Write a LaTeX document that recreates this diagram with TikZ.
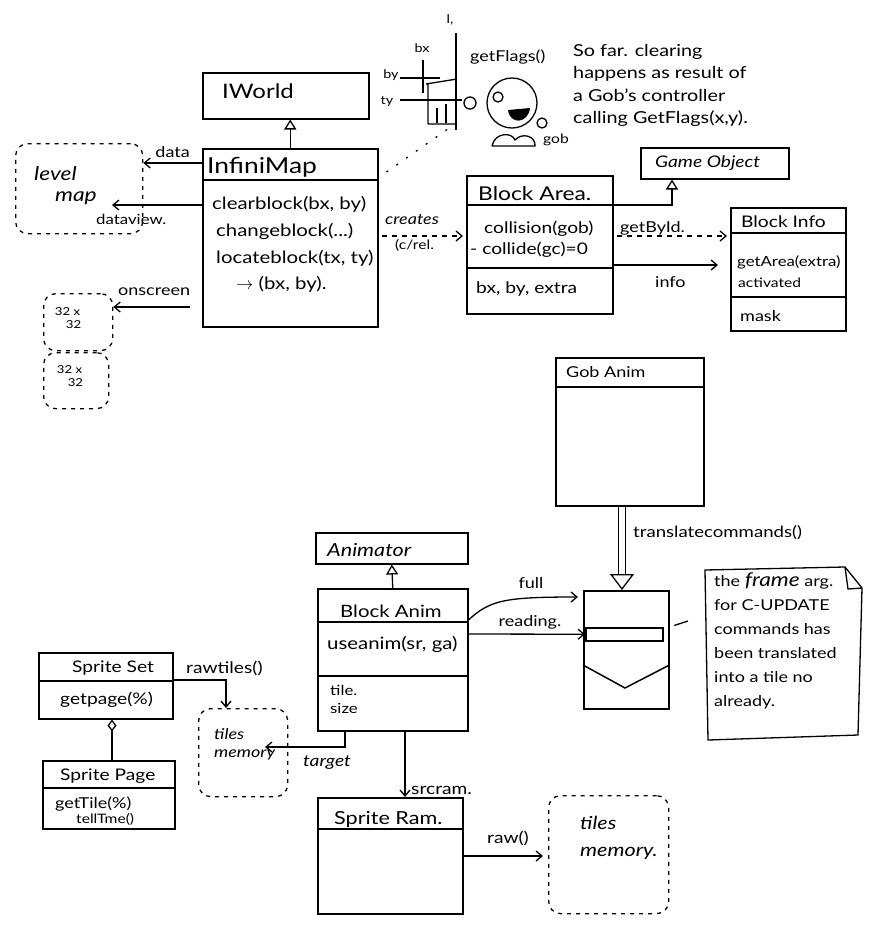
\documentclass[tikz,border=0pt]{standalone}
\usepackage{fontspec}
\setmainfont{Lato}[FakeStretch=1.2]
\usetikzlibrary{arrows.meta,calc}
\newcommand{\fs}[1]{\fontsize{#1}{#1}\selectfont}
\begin{document}
\begin{tikzpicture}[x=1pt,y=-1pt,
  box/.style={draw, line width=1.5pt, anchor=north west, inner sep=0pt},
  dbox/.style={draw, line width=1.3pt, rounded corners=12pt, anchor=north west, inner sep=0pt, dash pattern=on 4pt off 5pt},
  sep/.style={line width=1.5pt},
  cname/.style={anchor=west, inner sep=0pt, font=\fs{17}},
  meth/.style={anchor=west, inner sep=0pt, font=\fs{16}},
  lab/.style={inner sep=0pt, font=\fs{15}},
  conn/.style={line width=1.3pt, -{Straight Barb[length=6pt,width=10pt,line width=1.3pt]}},
  dconn/.style={conn, dash pattern=on 5pt off 5pt},
  inh/.style={line width=1.3pt, -{Triangle[open,length=10pt,width=12pt,line width=1.3pt]}},
  sketch/.style={line width=1.3pt},
]
\useasboundingbox (0,0) rectangle (874,930);

% ---------- IWorld / InfiniMap ----------
\node[box, minimum width=166pt, minimum height=46pt] (iworld) at (202,72) {};
\node[cname, font=\fs{20}] (iworldT) at (222,91) {IWorld};
\node[box, minimum width=175pt, minimum height=178pt] (infini) at (202,148) {};
\draw[sep] (infini.west |- 0,180) -- (infini.east |- 0,180);
\node[cname, font=\fs{22}] (infiniT) at (207,167) {InfiniMap};
\node[meth, font=\fs{17}] (im1) at (212,204) {clearblock(bx, by)};
\node[meth, font=\fs{17}] (im2) at (216,231) {changeblock(...)};
\node[meth, font=\fs{17}] (im3) at (216,258) {locateblock(tx, ty)};
\node[meth, font=\fs{17}] (im4) at (236,284) {$\rightarrow$ (bx, by).};
\draw[inh] (infini.north) -- (infini.north |- iworld.south);

% ---------- level map & screens ----------
\node[dbox, minimum width=127pt, minimum height=90pt] (levelmap) at (15,143) {};
\node[lab, anchor=west, align=left, font=\itshape\fontsize{19}{21}\selectfont] (levelmapT) at (34,186) {level\\\hspace{1.1em}map};
\draw[conn] (infini.west |- 0,163) -- (levelmap.east |- 0,163) node[lab, midway, above=5pt] (dataL) {data};
\coordinate (dvend) at (112,205);
\draw[conn] (infini.west |- 0,205) -- (dvend);
\node[lab, anchor=west, font=\fs{14}] (dataviewL) at (96,219) {dataview.};

\node[dbox, minimum width=69pt, minimum height=57pt] (scr1) at (43,293) {};
\node[dbox, minimum width=65pt, minimum height=56pt] (scr2) at (43,352) {};
\node[lab, align=left, font=\fontsize{11}{13}\selectfont] (scr1T) at (68,318) {32 x\\\quad 32};
\node[lab, align=left, font=\fontsize{11}{13}\selectfont] (scr2T) at (70,376) {32 x\\\quad 32};
\draw[conn, shorten <=12pt] (infini.west |- 0,307) -- (scr1.east |- 0,307);
\node[lab, anchor=west] (onscreenL) at (118,292) {onscreen};

% ---------- grid sketch and gob ----------
\coordinate (gridc) at (452,126);
\draw[sketch] (456,33) -- (456,130);
\draw[sketch] (423,60) -- (423,93);
\draw[sketch] (400,78) -- (440,78);
\draw[sketch] (400,100) -- (462,100);
\draw[sketch] (426,84) -- (457,79) (428,84) -- (428,124) (428,124) -- (457,124);
\draw[sketch] (437,123) -- (437,108) (446,123) -- (446,104);
\node[lab, font=\fs{12}] (blx) at (450,20) {l,};
\node[lab, font=\fs{12}] (bxL) at (422,48) {bx};
\node[lab, font=\fs{12}] (byL) at (391,75) {by};
\node[lab, font=\fs{12}] (tyL) at (387,101) {ty};
\node[lab, anchor=west, font=\fs{15}] (getflagsL) at (470,57) {getFlags()};
\draw[sketch] (512,103) circle (25);
\draw[sketch] (470,103) circle (6);
\draw[sketch] (498,97) circle (5);
\fill (508,110) .. controls (510,125) and (528,124) .. (530,108) -- cycle;
\draw[sketch] (542,123) circle (5);
\draw[sketch] (492,146) .. controls (495,132) and (512,132) .. (515,140) .. controls (522,132) and (536,136) .. (535,146) -- (492,146);
\node[lab, font=\fs{13}] (gobL) at (556,140) {gob};
\node[lab, anchor=north west, align=left, font=\fontsize{16.5}{22.5}\selectfont] (farT) at (573,44) {So far. clearing\\happens as result of\\a Gob's controller\\calling GetFlags(x,y).};
\draw[line width=1.3pt, dash pattern=on 2pt off 10pt] (infini.north east |- 0,172) ++(8,0) -- (gridc);

% ---------- Block Area / GameObject / Block Info ----------
\node[box, minimum width=146pt, minimum height=138pt] (barea) at (466,175) {};
\draw[sep] (barea.west |- 0,205) -- (barea.east |- 0,205);
\draw[sep] (barea.west |- 0,268) -- (barea.east |- 0,268);
\node[cname, font=\fs{19}] (bareaT) at (478,194) {Block Area.};
\node[meth] (ba1) at (484,229) {collision(gob)};
\node[meth] (ba2) at (470,250) {- collide(gc)=0};
\node[meth] (ba3) at (476,289) {bx, by, extra};
\draw[dconn, shorten <=3pt, shorten >=3pt] (infini.east |- 0,236) -- (barea.west |- 0,236);
\node[lab, anchor=west, font=\itshape\fs{15}] (createsL) at (385,220) {creates};
\node[lab, anchor=west, font=\fs{13}] (crelL) at (395,245) {(c/rel.};

\node[box, minimum width=148pt, minimum height=31pt] (gobj) at (640,147) {};
\node[cname, font=\itshape\fs{16}] (gobjT) at (655,163) {Game Object};
\draw[inh] (barea.east |- 0,205) -| (gobj.south -| 672,0);

\node[box, minimum width=115pt, minimum height=123pt] (binfo) at (730,207) {};
\draw[sep] (binfo.west |- 0,233) -- (binfo.east |- 0,233);
\draw[sep] (binfo.west |- 0,297) -- (binfo.east |- 0,297);
\node[cname, font=\fs{16}] (binfoT) at (741,222) {Block Info};
\node[meth, font=\fs{14}] (bi1) at (737,262) {getArea(extra)};
\node[meth, font=\fs{13}] (bi2) at (738,283) {activated};
\node[meth, font=\fs{15}] (bi3) at (740,316) {mask};
\draw[dconn, shorten <=3pt, shorten >=3pt] (barea.east |- 0,236) -- (binfo.west |- 0,236);
\node[lab, anchor=west] (getbyidL) at (620,228) {getById.};
\draw[conn, shorten >=12pt] (barea.east |- 0,265) -- (binfo.west |- 0,265);
\node[lab, anchor=west] (infoL) at (655,282) {info};

% ---------- Gob Anim / queue / note ----------
\node[box, minimum width=148pt, minimum height=148pt] (gobanim) at (555,357) {};
\draw[sep] (gobanim.west |- 0,387) -- (gobanim.east |- 0,387);
\node[cname, font=\fs{15}] (gobanimT) at (566,372) {Gob Anim};

\node[box, minimum width=85pt, minimum height=118pt] (queue) at (583,590) {};
\node[box, minimum width=77pt, minimum height=13pt] (inner) at (585,627) {};
\draw[sep] (queue.west |- 0,665) -- (625,688) -- (queue.east |- 0,665);
\draw[line width=1.3pt, double distance=6pt, -{Triangle[open,length=16pt,width=24pt,line width=1.3pt]}] (gobanim.south -| 622,0) -- (queue.north -| 622,0);
\node[lab, anchor=west, font=\fs{15.5}] (translateL) at (633,533) {translatecommands()};

\draw[line width=1.3pt] (705,570) -- (845,567) -- (862,588) -- (858,735) -- (708,740) -- cycle;
\draw[line width=1.3pt] (845,567) -- (848,589) -- (862,588);
\node[lab, anchor=north west, align=left, font=\fontsize{15}{24}\selectfont] (noteT) at (714,572) {the \textit{\fs{19}frame} arg.\\for C-UPDATE\\commands has\\been translated\\into a tile no\\already.};
\draw[line width=1.3pt, shorten <=5pt] (queue.east |- 0,627) -- (688,621);

% ---------- Animator / Block Anim ----------
\node[box, minimum width=152pt, minimum height=31pt] (animator) at (315,532) {};
\node[cname, font=\itshape\fs{18}] (animatorT) at (327,550) {Animator};
\node[box, minimum width=150pt, minimum height=142pt] (banim) at (317,588) {};
\draw[sep] (banim.west |- 0,622) -- (banim.east |- 0,622);
\draw[sep] (banim.west |- 0,676) -- (banim.east |- 0,676);
\node[cname, font=\fs{17}] (banimT) at (340,611) {Block Anim};
\node[meth, font=\fs{17}] (bn1) at (327,644) {useanim(sr, ga)};
\node[meth, font=\fs{14}] (bn2) at (330,690) {tile.};
\node[meth, font=\fs{14}] (bn3) at (330,708) {size};
\draw[inh] (banim.north) -- (animator.south);
\draw[conn, shorten >=5pt] (banim.east |- 0,620) .. controls (490,600) and (505,597) .. (queue.west |- 0,597);
\node[lab] (fullL) at (531,583) {full};
\draw[conn] (banim.east |- 0,634) -- (inner.west);
\node[lab] (readingL) at (530,622) {reading.};

% ---------- Sprite Set / Sprite Page ----------
\node[box, minimum width=134pt, minimum height=66pt] (sset) at (38,652) {};
\draw[sep] (sset.west |- 0,681) -- (sset.east |- 0,681);
\node[cname, font=\fs{16}] (ssetT) at (72,668) {Sprite Set};
\node[meth] (ss1) at (60,700) {getpage(\%)};
\node[box, minimum width=132pt, minimum height=68pt] (spage) at (42,760) {};
\draw[sep] (spage.west |- 0,788) -- (spage.east |- 0,788);
\node[cname, font=\fs{16}] (spageT) at (60,776) {Sprite Page};
\node[meth, font=\fs{15}] (sp1) at (55,804) {getTile(\%)};
\node[meth, font=\fs{13}] (sp2) at (76,819) {tellTme()};
\draw[line width=1.3pt, {Diamond[open,length=12pt,width=9pt,line width=1.3pt]}-] (sset.south -| 112,0) -- (spage.north -| 112,0);

\node[dbox, minimum width=89pt, minimum height=88pt] (tiles1) at (198,708) {};
\node[lab, anchor=west, align=left, font=\itshape\fontsize{15}{18}\selectfont] (tiles1T) at (214,744) {tiles\\memory};
\draw[conn] (sset.east |- 0,680) -| (tiles1.north -| 226,0);
\node[lab, anchor=west, font=\fs{16}] (rawtilesL) at (186,668) {rawtiles()};
\coordinate (tgt) at (265,747);
\draw[conn] (banim.south -| 345,0) |- (tgt);
\node[lab, font=\itshape\fs{16}] (targetL) at (327,763) {target};

% ---------- Sprite Ram ----------
\node[box, minimum width=145pt, minimum height=116pt] (sram) at (317,797) {};
\draw[sep] (sram.west |- 0,829) -- (sram.east |- 0,829);
\node[cname, font=\fs{18}] (sramT) at (334,819) {Sprite Ram.};
\draw[conn] (banim.south -| 405,0) -- (sram.north -| 405,0);
\node[lab, anchor=west, font=\fs{16}] (srcramL) at (411,790) {srcram.};
\node[dbox, minimum width=120pt, minimum height=118pt] (tiles2) at (548,795) {};
\node[lab, anchor=west, align=left, font=\itshape\fontsize{18}{27}\selectfont] (tiles2T) at (580,838) {tiles\\memory.};
\draw[conn, shorten >=5pt] (sram.east |- 0,856) -- (tiles2.west |- 0,856);
\node[lab, font=\fs{16}] (rawL) at (508,838) {raw()};
\end{tikzpicture}
\end{document}
